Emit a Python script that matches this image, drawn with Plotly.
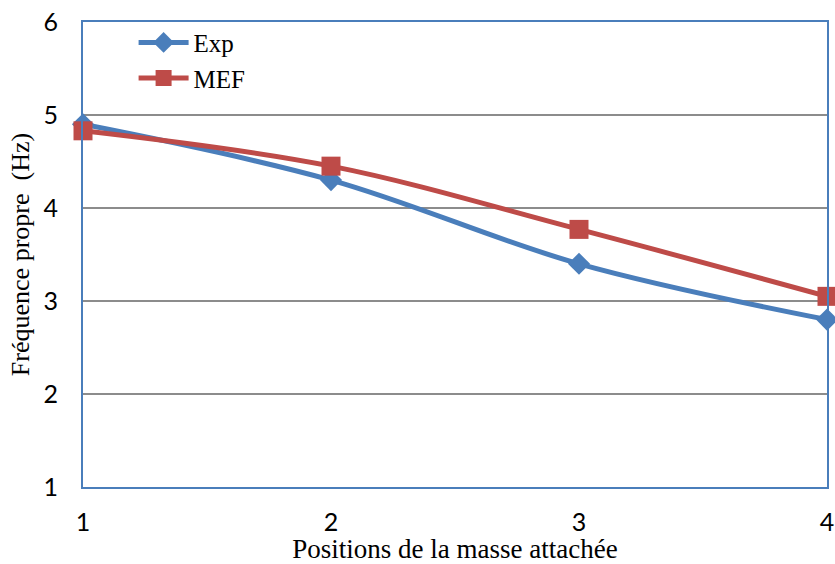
import plotly.graph_objects as go

positions = [1, 2, 3, 4]
exp_vals = [4.90, 4.30, 3.40, 2.80]
mef_vals = [4.83, 4.45, 3.77, 3.05]
x_ticks = [1, 2, 3, 4]
y_ticks = [1, 2, 3, 4, 5, 6]

blue = "#4A7EBB"
red = "#BE4B48"

fig = go.Figure()
fig.add_trace(go.Scatter(
    x=positions, y=exp_vals, name="Exp", mode="lines+markers",
    line=dict(color=blue, width=5, shape="spline", smoothing=1.0),
    marker=dict(symbol="diamond", size=17, color=blue),
    cliponaxis=False,
))
fig.add_trace(go.Scatter(
    x=positions, y=mef_vals, name="MEF", mode="lines+markers",
    line=dict(color=red, width=5, shape="spline", smoothing=1.0),
    marker=dict(symbol="square", size=19, color=red),
    cliponaxis=False,
))

fig.update_layout(
    width=835, height=564,
    margin=dict(l=83, r=1, t=22, b=77),
    paper_bgcolor="white", plot_bgcolor="white",
    showlegend=True,
    legend=dict(
        x=0.068, y=1.005, xanchor="left", yanchor="top",
        font=dict(family="Liberation Serif", size=25, color="black"),
        bgcolor="rgba(0,0,0,0)", tracegroupgap=0,
        itemwidth=50,
    ),
    xaxis=dict(
        range=[1, 4], tickvals=x_ticks, ticktext=[str(v) for v in x_ticks],
        showgrid=False, zeroline=False,
        showline=True, mirror=True, linecolor=blue, linewidth=2,
        ticks="outside", ticklen=12, tickcolor="rgba(0,0,0,0)",
        ticklabeloverflow="allow",
        tickfont=dict(family="Lato", size=25, color="black"),
        title=dict(text="Positions de la masse attachée",
                   font=dict(family="Liberation Serif", size=27, color="black"),
                   standoff=4),
    ),
    yaxis=dict(
        range=[1, 6], tickvals=y_ticks, ticktext=[str(v) for v in y_ticks],
        showgrid=True, gridcolor="#8C8C8C", gridwidth=1.5,
        zeroline=False,
        showline=True, mirror=True, linecolor=blue, linewidth=2,
        ticks="outside", ticklen=18, tickcolor="rgba(0,0,0,0)",
        tickfont=dict(family="Lato", size=25, color="black"),
        title=dict(text="Fréquence propre  (Hz)",
                   font=dict(family="Liberation Serif", size=26, color="black"),
                   standoff=6),
    ),
)

fig.write_html("out.html")
